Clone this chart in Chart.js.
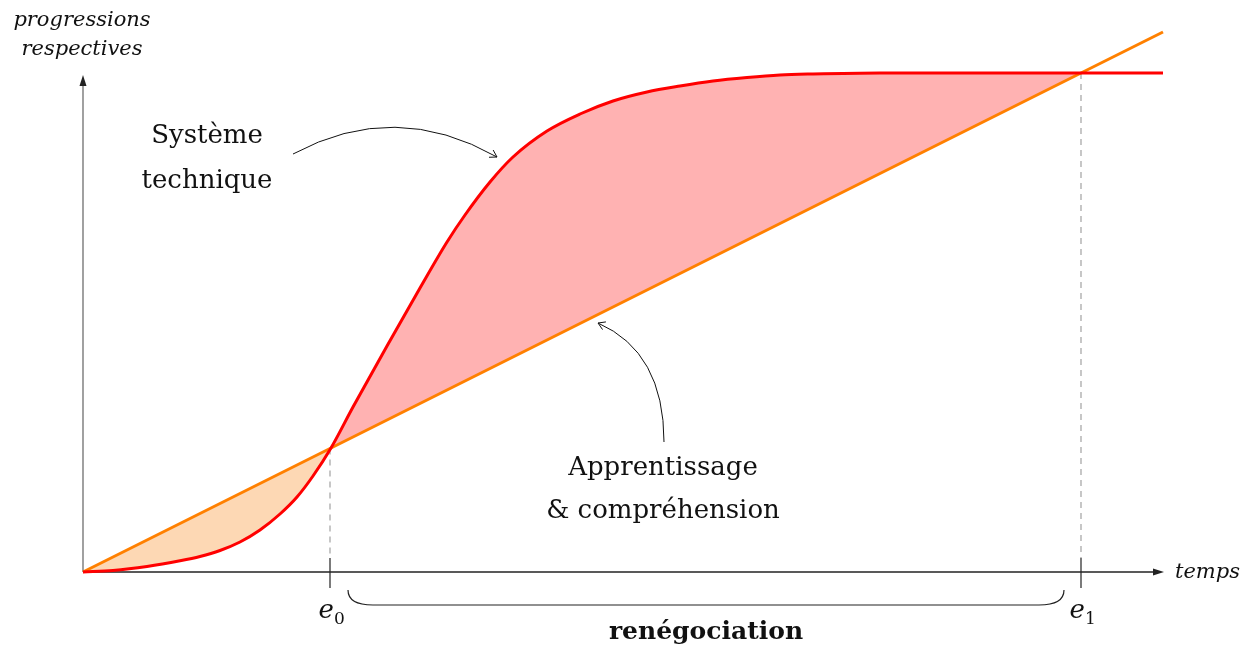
<!DOCTYPE html>
<html>
<head>
<meta charset="utf-8">
<script src="https://cdn.jsdelivr.net/npm/chart.js@4.4.0/dist/chart.umd.min.js"></script>
<style>
  html, body { margin: 0; padding: 0; background: #fff; }
  #wrap { width: 1253px; height: 646px; }
</style>
</head>
<body>
<div id="wrap"><canvas id="chart" width="1253" height="646"></canvas></div>
<script>
// courbe du système technique
const redX = [0, 3, 6.4, 9.7, 11.7, 13.7, 15.7, 17.7, 19.7, 21.4, 23, 24.8, 27, 30.4, 33.7, 36.4, 38.2, 40.7, 43, 46.4, 49.7, 53, 56.4, 59.7, 63, 66.4, 69.7, 73, 79.7, 99.8, 108];
const redY = [0, 0.15, 0.55, 1.12, 1.55, 2.15, 3.0, 4.2, 5.8, 7.5, 9.6, 12.4, 16.5, 22.6, 28.4, 33, 35.7, 39, 41.5, 44.1, 45.8, 47.1, 48, 48.6, 49.1, 49.45, 49.7, 49.8, 49.9, 49.9, 49.9];
// apprentissage : droite
const orangeX = [0, 99.8, 108];
const orangeY = [0, 49.9, 54];
// points de rencontre
const eTicks = [24.7, 99.8];
const eLabels = ["0", "1"];

const RED = "#ff0000";
const ORANGE = "#ff8000";
const PINK = "rgb(255,178,178)";
const PEACH = "rgb(253,216,180)";
const SERIF = "'DejaVu Serif', serif";

const toPts = (xs, ys) => xs.map((x, i) => ({ x, y: ys[i] }));
const redPts = toPts(redX, redY);
const orangePts = toPts(orangeX, orangeY);
const lastE = eTicks[eTicks.length - 1];

// axes, pointillés, accolade
const decor = {
  id: "decor",
  beforeDatasetsDraw(chart) {
    const { ctx, scales: { x, y } } = chart;
    const x0 = x.getPixelForValue(0), y0 = y.getPixelForValue(0);
    const xEnd = x.getPixelForValue(108) + 1;
    ctx.save();
    // axe y
    ctx.strokeStyle = "#6e6e6e";
    ctx.lineWidth = 1.3;
    ctx.beginPath(); ctx.moveTo(x0, y0); ctx.lineTo(x0, 84); ctx.stroke();
    ctx.fillStyle = "#222";
    ctx.beginPath(); ctx.moveTo(x0, 75); ctx.lineTo(x0 - 3.5, 86); ctx.lineTo(x0 + 3.5, 86); ctx.closePath(); ctx.fill();
    // axe x
    ctx.strokeStyle = "#222";
    ctx.beginPath(); ctx.moveTo(x0, y0); ctx.lineTo(xEnd - 10, y0); ctx.stroke();
    ctx.beginPath(); ctx.moveTo(xEnd, y0); ctx.lineTo(xEnd - 11, y0 - 3.5); ctx.lineTo(xEnd - 11, y0 + 3.5); ctx.closePath(); ctx.fill();
    // pointillés + graduations
    eTicks.forEach((e) => {
      const px = x.getPixelForValue(e);
      const top = y.getPixelForValue(e / 2);
      ctx.strokeStyle = "#999";
      ctx.lineWidth = 1.1;
      ctx.setLineDash([6, 5]);
      ctx.beginPath(); ctx.moveTo(px, top); ctx.lineTo(px, y0 - 14); ctx.stroke();
      ctx.setLineDash([]);
      ctx.strokeStyle = "#222";
      ctx.lineWidth = 1.2;
      ctx.beginPath(); ctx.moveTo(px, y0 - 14); ctx.lineTo(px, y0 + 16); ctx.stroke();
    });
    ctx.restore();
  },
  afterDraw(chart) {
    const { ctx, scales: { x, y } } = chart;
    const y0 = y.getPixelForValue(0);
    ctx.save();
    ctx.fillStyle = "#111";
    ctx.textAlign = "center";
    ctx.textBaseline = "alphabetic";

    // titres d'axes
    ctx.font = "italic 21px " + SERIF;
    ctx.fillText("progressions", 82, 26);
    ctx.fillText("respectives", 82, 55);
    ctx.textAlign = "left";
    ctx.fillText("temps", 1175, y0 + 6);

    // e0, e1
    eTicks.forEach((e, i) => {
      const px = x.getPixelForValue(e);
      ctx.font = "italic 26px " + SERIF;
      ctx.textAlign = "right";
      ctx.fillText("e", px + 4, 618);
      ctx.font = "17px " + SERIF;
      ctx.textAlign = "left";
      ctx.fillText(eLabels[i], px + 4, 624);
    });

    // accolade
    const bl = x.getPixelForValue(eTicks[0]) + 18;
    const br = x.getPixelForValue(lastE) - 17;
    const by = 605, r = 15;
    ctx.strokeStyle = "#222";
    ctx.lineWidth = 1.2;
    ctx.beginPath();
    ctx.moveTo(bl, by - r);
    ctx.quadraticCurveTo(bl, by, bl + r + 10, by);
    ctx.lineTo(br - r - 10, by);
    ctx.quadraticCurveTo(br, by, br, by - r);
    ctx.stroke();

    ctx.textAlign = "center";
    ctx.font = "bold 25px " + SERIF;
    ctx.fillText("renégociation", (bl + br) / 2, 639);

    // annotations
    ctx.font = "26px " + SERIF;
    ctx.fillText("Système", 207, 143);
    ctx.fillText("technique", 207, 188);
    ctx.fillText("Apprentissage", 663, 475);
    ctx.fillText("& compréhension", 663, 518);

    ctx.lineWidth = 1;
    ctx.strokeStyle = "#111";
    const arrowHead = (tx, ty, ang) => {
      ctx.beginPath();
      ctx.moveTo(tx + 8 * Math.cos(ang + 0.55), ty + 8 * Math.sin(ang + 0.55));
      ctx.lineTo(tx, ty);
      ctx.lineTo(tx + 8 * Math.cos(ang - 0.55), ty + 8 * Math.sin(ang - 0.55));
      ctx.stroke();
    };
    ctx.beginPath();
    ctx.moveTo(293, 154);
    ctx.quadraticCurveTo(395, 99, 497, 157);
    ctx.stroke();
    arrowHead(497, 157, Math.atan2(99 - 157, 395 - 497));

    ctx.beginPath();
    ctx.moveTo(664, 442);
    ctx.quadraticCurveTo(664, 352, 598, 323);
    ctx.stroke();
    arrowHead(598, 323, Math.atan2(352 - 323, 664 - 598));
    ctx.restore();
  }
};

new Chart(document.getElementById("chart"), {
  type: "line",
  data: {
    datasets: [
      { data: redPts, borderColor: RED, borderWidth: 3, pointRadius: 0, cubicInterpolationMode: "monotone", fill: false, clip: 6 },
      { data: orangePts, borderColor: ORANGE, borderWidth: 3, pointRadius: 0, tension: 0, fill: false, clip: 6 },
      {
        data: redPts.filter((p) => p.x <= lastE),
        borderWidth: 0, pointRadius: 0, cubicInterpolationMode: "monotone",
        fill: { target: "+1", above: PINK, below: PEACH }
      },
      { data: orangePts.filter((p) => p.x <= lastE), borderWidth: 0, pointRadius: 0, tension: 0, fill: false }
    ]
  },
  options: {
    responsive: false,
    animation: false,
    layout: { padding: { left: 83, right: 90, top: 32, bottom: 74 } },
    scales: {
      x: { type: "linear", min: 0, max: 108, display: false },
      y: { type: "linear", min: 0, max: 54, display: false }
    },
    plugins: { legend: { display: false }, tooltip: { enabled: false } }
  },
  plugins: [decor]
});
</script>
</body>
</html>
